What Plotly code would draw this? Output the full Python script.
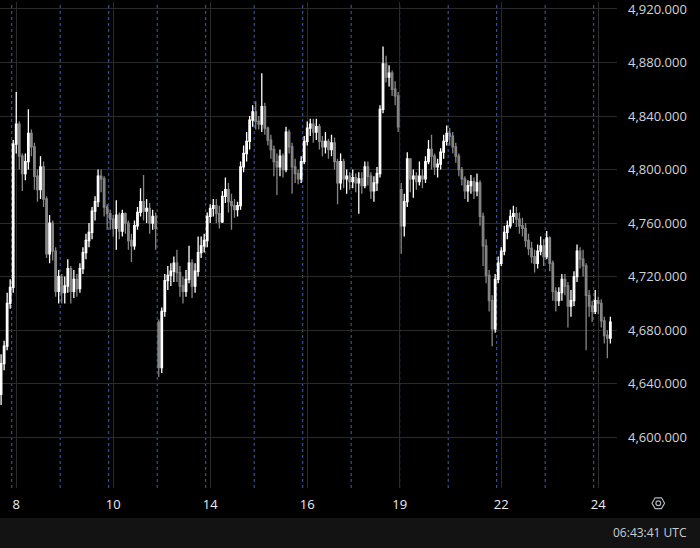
import math
import plotly.graph_objects as go

# ---------------- data (hourly-ish candles, 16 per session) ----------------
pre_open  = [4632, 4655, 4668, 4700]
pre_high  = [4662, 4672, 4708, 4718]
pre_low   = [4624, 4650, 4665, 4696]
pre_close = [4655, 4668, 4700, 4712]

open_ = pre_open + [
    4712, 4819, 4834, 4810, 4797, 4806, 4827, 4817, 4795, 4785, 4802, 4778, 4737, 4760, 4739, 4709,
    4720, 4708, 4713, 4726, 4709, 4718, 4711, 4726, 4738, 4747, 4753, 4769, 4776, 4795, 4793, 4772,
    4767, 4763, 4756, 4766, 4754, 4767, 4760, 4747, 4743, 4758, 4768, 4776, 4769, 4771, 4760, 4765,
    4686, 4652, 4694, 4717, 4721, 4724, 4730, 4723, 4713, 4709, 4718, 4730, 4713, 4724, 4738, 4743,
    4747, 4765, 4771, 4773, 4767, 4761, 4780, 4785, 4776, 4773, 4770, 4773, 4802, 4812, 4821, 4837,
    4843, 4836, 4834, 4847, 4831, 4822, 4815, 4806, 4802, 4810, 4800, 4828, 4817, 4802, 4797, 4793,
    4806, 4821, 4831, 4834, 4828, 4832, 4821, 4817, 4821, 4815, 4820, 4806, 4790, 4806, 4793, 4795,
    4791, 4794, 4790, 4793, 4788, 4802, 4795, 4784, 4790, 4797, 4845, 4879, 4869, 4872, 4860, 4855,
    4785, 4758, 4776, 4808, 4793, 4795, 4791, 4795, 4793, 4806, 4815, 4810, 4802, 4804, 4813, 4821,
    4827, 4825, 4817, 4810, 4800, 4793, 4784, 4788, 4791, 4784, 4790, 4765, 4743, 4721, 4702, 4681,
    4718, 4730, 4739, 4753, 4758, 4765, 4767, 4763, 4758, 4756, 4747, 4741, 4735, 4730, 4739, 4743,
    4735, 4749, 4730, 4709, 4702, 4708, 4718, 4713, 4698, 4702, 4720, 4739, 4733, 4728, 4706, 4698,
    4694, 4702, 4700, 4687, 4676, 4674,
]
high = pre_high + [
    4822, 4858, 4836, 4812, 4812, 4845, 4830, 4820, 4800, 4810, 4806, 4780, 4766, 4762, 4742, 4725,
    4722, 4720, 4733, 4728, 4725, 4722, 4730, 4742, 4752, 4760, 4772, 4780, 4800, 4800, 4795, 4774,
    4770, 4766, 4777, 4768, 4770, 4768, 4762, 4752, 4762, 4772, 4786, 4796, 4778, 4775, 4770, 4768,
    4688, 4697, 4722, 4728, 4730, 4735, 4740, 4728, 4720, 4725, 4743, 4733, 4730, 4750, 4750, 4752,
    4768, 4774, 4778, 4778, 4773, 4784, 4794, 4790, 4782, 4778, 4776, 4806, 4818, 4828, 4840, 4848,
    4851, 4840, 4872, 4850, 4832, 4826, 4818, 4812, 4815, 4812, 4832, 4830, 4820, 4808, 4800, 4810,
    4825, 4836, 4838, 4838, 4838, 4834, 4825, 4828, 4823, 4826, 4824, 4808, 4812, 4808, 4800, 4798,
    4800, 4797, 4798, 4798, 4806, 4806, 4798, 4795, 4802, 4848, 4892, 4885, 4878, 4874, 4866, 4858,
    4790, 4782, 4813, 4808, 4800, 4798, 4806, 4800, 4810, 4822, 4826, 4812, 4808, 4816, 4826, 4833,
    4831, 4828, 4820, 4812, 4802, 4795, 4792, 4796, 4794, 4797, 4792, 4768, 4748, 4725, 4706, 4722,
    4735, 4742, 4758, 4762, 4770, 4773, 4772, 4768, 4764, 4760, 4752, 4746, 4740, 4744, 4750, 4748,
    4754, 4750, 4732, 4712, 4712, 4722, 4722, 4716, 4710, 4724, 4744, 4742, 4740, 4730, 4710, 4702,
    4710, 4705, 4703, 4690, 4680, 4690,
]
low = pre_low + [
    4708, 4812, 4800, 4784, 4792, 4800, 4810, 4785, 4776, 4778, 4772, 4734, 4730, 4732, 4705, 4700,
    4700, 4700, 4708, 4700, 4704, 4705, 4708, 4722, 4733, 4742, 4748, 4762, 4772, 4783, 4765, 4755,
    4755, 4750, 4740, 4748, 4750, 4752, 4740, 4731, 4740, 4755, 4765, 4762, 4760, 4752, 4755, 4740,
    4645, 4648, 4690, 4710, 4713, 4716, 4716, 4705, 4700, 4705, 4715, 4704, 4708, 4720, 4734, 4738,
    4742, 4760, 4765, 4760, 4756, 4760, 4775, 4768, 4755, 4764, 4765, 4770, 4798, 4806, 4815, 4832,
    4830, 4830, 4828, 4826, 4818, 4808, 4795, 4781, 4795, 4794, 4798, 4812, 4782, 4790, 4789, 4790,
    4804, 4818, 4825, 4820, 4822, 4815, 4810, 4812, 4808, 4810, 4800, 4774, 4785, 4786, 4782, 4785,
    4786, 4783, 4767, 4782, 4786, 4788, 4778, 4776, 4784, 4794, 4842, 4865, 4862, 4855, 4848, 4828,
    4737, 4750, 4772, 4783, 4779, 4785, 4788, 4786, 4790, 4804, 4800, 4796, 4794, 4800, 4808, 4818,
    4818, 4812, 4805, 4795, 4788, 4778, 4776, 4782, 4778, 4780, 4758, 4728, 4715, 4694, 4668, 4678,
    4715, 4728, 4736, 4748, 4756, 4760, 4757, 4752, 4750, 4742, 4736, 4730, 4723, 4726, 4736, 4728,
    4733, 4724, 4702, 4694, 4698, 4702, 4706, 4682, 4690, 4698, 4716, 4726, 4720, 4665, 4690, 4686,
    4692, 4692, 4682, 4670, 4659, 4670,
]
close = pre_close + [
    4819, 4834, 4810, 4797, 4806, 4827, 4817, 4795, 4785, 4802, 4778, 4737, 4760, 4739, 4709, 4720,
    4708, 4713, 4726, 4709, 4718, 4711, 4726, 4738, 4747, 4753, 4769, 4776, 4795, 4793, 4772, 4767,
    4763, 4756, 4766, 4754, 4767, 4760, 4747, 4743, 4758, 4768, 4776, 4769, 4771, 4760, 4765, 4756,
    4652, 4694, 4717, 4721, 4724, 4730, 4723, 4713, 4709, 4718, 4730, 4713, 4724, 4738, 4743, 4747,
    4765, 4771, 4773, 4767, 4761, 4780, 4785, 4776, 4773, 4770, 4773, 4802, 4812, 4821, 4837, 4843,
    4836, 4834, 4847, 4831, 4822, 4815, 4806, 4802, 4810, 4800, 4828, 4817, 4802, 4797, 4793, 4806,
    4821, 4831, 4834, 4828, 4832, 4821, 4817, 4821, 4815, 4820, 4806, 4790, 4806, 4793, 4795, 4791,
    4794, 4790, 4793, 4788, 4802, 4795, 4784, 4790, 4797, 4845, 4879, 4869, 4872, 4860, 4855, 4832,
    4758, 4776, 4808, 4793, 4795, 4791, 4795, 4793, 4806, 4815, 4810, 4802, 4804, 4813, 4821, 4827,
    4825, 4817, 4810, 4800, 4793, 4784, 4788, 4791, 4784, 4790, 4765, 4743, 4721, 4702, 4681, 4718,
    4730, 4739, 4753, 4758, 4765, 4767, 4763, 4758, 4756, 4747, 4741, 4735, 4730, 4739, 4743, 4735,
    4749, 4730, 4709, 4702, 4708, 4718, 4713, 4698, 4702, 4720, 4739, 4733, 4728, 4706, 4698, 4694,
    4702, 4700, 4687, 4676, 4674, 4686,
]

BARS_PER_SESSION = 16
N_PRE = len(pre_close)
N_SESSIONS = 13
date_labels = ["8", "10", "14", "16", "19", "22", "24"]
label_sessions = [0, 2, 4, 6, 8, 10, 12]
label_offsets = [1.5, 1.5, 1.5, 1.5, 0.0, 1.5, 1.5]
price_ticks = [4600, 4640, 4680, 4720, 4760, 4800, 4840, 4880, 4920]
clock_text = "06:43:41 UTC"

# ---------------- figure ----------------
n = len(close)
x = list(range(n))
boundaries = [N_PRE - 0.5 + BARS_PER_SESSION * d for d in range(N_SESSIONS)]
tickvals = [boundaries[s] + o for s, o in zip(label_sessions, label_offsets)]

W, H = 700, 548
ML, MR, MT, MB = 0, 83, 0, 60
PW, PH = W - ML - MR, H - MT - MB

fig = go.Figure(go.Candlestick(
    x=x, open=open_, high=high, low=low, close=close,
    increasing=dict(line=dict(color="#ffffff", width=1.3), fillcolor="#ffffff"),
    decreasing=dict(line=dict(color="#858585", width=1.3), fillcolor="#858585"),
    whiskerwidth=0, hoverinfo="skip", showlegend=False,
))

shapes = []
for b in boundaries:
    shapes.append(dict(type="line", xref="x", yref="paper", x0=b, x1=b, y0=0, y1=1,
                       line=dict(color="#3463c0", width=1, dash="3px,3px"), layer="below"))


def py(pix):
    return (PH - pix) / PH


def px(pix):
    return pix / PW


# bottom status bar
shapes.append(dict(type="rect", xref="paper", yref="paper", x0=px(-2), x1=px(W + 2),
                   y0=py(H + 2), y1=py(518), fillcolor="#131313", line=dict(width=0)))

# settings icon (hexagon + circle)
cx, cy, r = 658.3, 503.3, 6.3
pts = []
for k in range(6):
    a = math.radians(60 * k)
    pts.append((px(cx + r * math.cos(a)), py(cy + r * math.sin(a))))
path = "M " + " L ".join(f"{a:.5f},{b:.5f}" for a, b in pts) + " Z"
shapes.append(dict(type="path", xref="paper", yref="paper", path=path,
                   line=dict(color="#b2b5be", width=1.2)))
cr = 2.4
shapes.append(dict(type="circle", xref="paper", yref="paper",
                   x0=px(cx - cr), x1=px(cx + cr), y0=py(cy + cr), y1=py(cy - cr),
                   line=dict(color="#b2b5be", width=1.2)))

# pixel->data ranges
y_top_px, y_top_val = 7.0, 4920.0
per_px = 40.0 / 53.75
yr = [y_top_val - (PH - y_top_px) * per_px, y_top_val + y_top_px * per_px]
bar_px = 48.5 / BARS_PER_SESSION
first_boundary_px = 11.7
xr = [boundaries[0] - first_boundary_px / bar_px, boundaries[0] + (PW - first_boundary_px) / bar_px]

FONT = "Open Sans"
fig.update_layout(
    width=W, height=H,
    margin=dict(l=ML, r=MR, t=MT, b=MB, pad=0),
    paper_bgcolor="#000000", plot_bgcolor="#000000",
    font=dict(family=FONT, color="#d1d4dc", size=13),
    shapes=shapes,
    hovermode=False,
    xaxis=dict(range=xr, tickvals=tickvals, ticktext=date_labels, showgrid=True,
               gridcolor="#2a2a2a", gridwidth=1, zeroline=False, showline=False,
               ticks="", ticklabelstandoff=7, rangeslider=dict(visible=False),
               ticklabeloverflow="allow",
               tickfont=dict(family=FONT, size=13, color="#eceef2"), fixedrange=True),
    yaxis=dict(range=yr, side="right", tickvals=price_ticks, tickformat=",.3f",
               showgrid=True, gridcolor="#2a2a2a", gridwidth=1, zeroline=False,
               showline=False, ticks="", ticklabelstandoff=10, ticklabeloverflow="allow",
               tickfont=dict(family=FONT, size=13, color="#d1d4dc"), fixedrange=True),
    annotations=[dict(text=clock_text, xref="paper", yref="paper", x=px(689), y=py(533),
                      xanchor="right", yanchor="middle", showarrow=False,
                      font=dict(family=FONT, size=12, color="#c9ccd4"))],
)

fig.write_html(
    "out.html",
    config={"displayModeBar": False, "staticPlot": True},
    post_script="document.body.style.margin='0';document.body.style.background='#000';",
)
